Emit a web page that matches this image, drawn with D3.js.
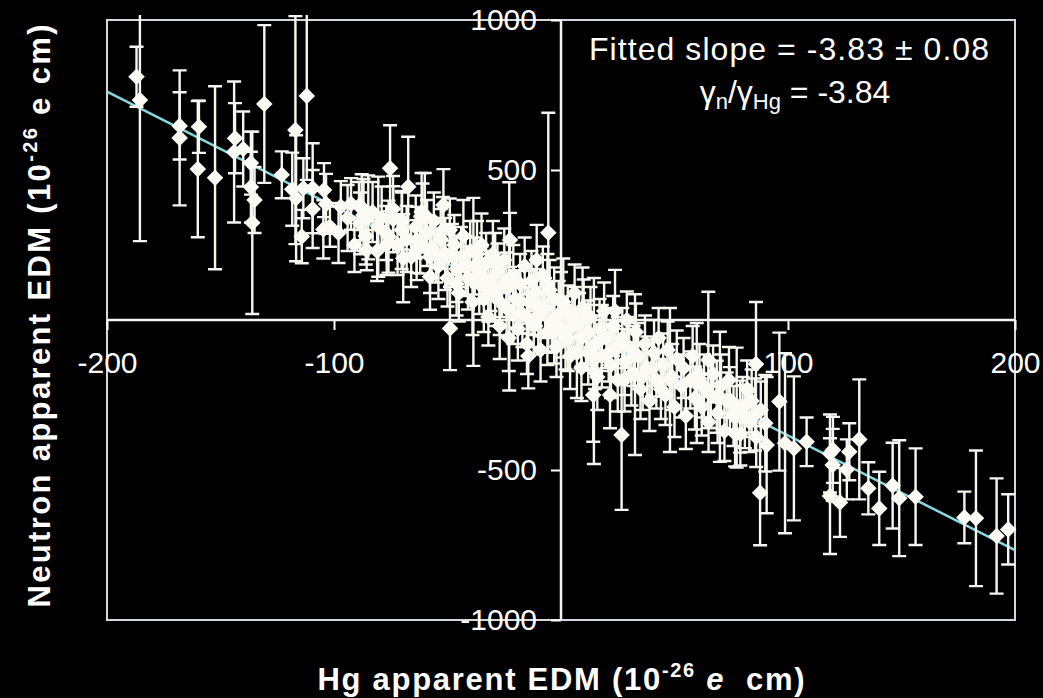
<!DOCTYPE html>
<html>
<head>
<meta charset="utf-8">
<script src="https://cdn.jsdelivr.net/npm/d3@7"></script>
<style>
  html, body { margin: 0; background: #000; }
  svg { display: block; }
  text { font-family: "Liberation Sans", Arial, sans-serif; fill: #fff; white-space: pre; }
</style>
</head>
<body>
<div id="chart"></div>
<script>
// [Hg apparent EDM, neutron apparent EDM, neutron error] in 1e-26 e cm
const edmPoints = [
  [-187, 811, 100], [-185.5, 733, 470], [-168, 647, 112], [-168, 607, 225],
  [-159.5, 644, 87], [-160, 503, 227], [-152.4, 474, 305], [-143.6, 606, 117],
  [-144, 560, 235], [-140, 570, 125], [-136.6, 523, 105], [-136.6, 443, 118],
  [-135, 400, 110], [-136, 324, 304], [-130.7, 720, 263], [-123, 484, 78],
  [-117, 633, 380], [-112, 747, 280], [-118.4, 436, 122], [-116.7, 406, 210],
  [-114.2, 278, 89], [-113.5, 439, 100], [-109.4, 439, 150], [-109.4, 370, 130],
  [-104.4, 433, 90], [-103.5, 387, 100], [-104.7, 302, 97], [-101.8, 311, 67],
  [-97, 378, 85], [-92.5, 387, 86], [-87.8, 376, 110], [-87, 350, 120],
  [-88.5, 322, 103], [-84.9, 342, 140], [-85.6, 233, 67], [-80.5, 311, 167],
  [-75.3, 506, 143], [-67.3, 444, 167], [-76, 278, 120], [-76.8, 250, 100],
  [-73.9, 336, 110], [-70.2, 300, 130], [-69.5, 206, 147], [-61, 340, 115],
  [-63.6, 267, 110], [-63.6, 233, 100], [-57.7, 210, 120], [-57.7, 144, 110],
  [-60, 350, 140], [-51.8, 383, 120], [-61.4, 360, 130], [-48.9, -28, 139],
  [-38.6, 127, 280], [-22.8, 112, 347], [-22.5, 267, 90], [-10.7, 200, 117],
  [-14.4, -120, 108], [-5.6, 291, 400],
  // band, left part
  [-98, 290, 100], [-94, 340, 110], [-91, 250, 90], [-89, 380, 80],
  [-86, 280, 95], [-83, 360, 100], [-81, 230, 100], [-79, 340, 105],
  [-77, 290, 90], [-74, 370, 110], [-72, 250, 100], [-70, 330, 95],
  [-68, 270, 110], [-66, 210, 100], [-64, 310, 105], [-62, 250, 95],
  [-59, 290, 110], [-57, 240, 100], [-56, 330, 95], [-54, 180, 110],
  [-53, 270, 100], [-51, 220, 120], [-50, 140, 95], [-49, 300, 105],
  [-47, 250, 100], [-46, 170, 110], [-45, 90, 95], [-44, 210, 100],
  [-43, 280, 120], [-41, 140, 105], [-40, 230, 100], [-39, 60, 110],
  [-38, 180, 95], [-36, 120, 100], [-35, 250, 105], [-34, 70, 110],
  [-33, 190, 100], [-32, 10, 95], [-31, 130, 100], [-30, 220, 110],
  [-29, 80, 100], [-28, 160, 95], [-27, -20, 110], [-26, 110, 100],
  [-25, 200, 105], [-24, 40, 95], [-23, -60, 110], [-21, 150, 100],
  [-20, 70, 95], [-19, -30, 105], [-18, 120, 100], [-17, 20, 110],
  [-16, 180, 95], [-15, -80, 100], [-14, 60, 105], [-13, 130, 100],
  [-12, -20, 95], [-11, 90, 110], [-10, 10, 100], [-9, -100, 105],
  [-8, 150, 95], [-7, 40, 100], [-6, -40, 110], [-5, 100, 100],
  [-4, -10, 95], [-3, 70, 105], [-2, -90, 100], [-1, 20, 110], [0, -30, 95],
  // extra points in the dense middle
  [-55, 215, 90], [-52, 300, 110], [-48, 220, 100], [-46, 120, 105],
  [-42, 180, 100], [-37, 220, 110], [-35, 150, 95], [-32, 100, 105],
  [-29, 190, 100], [-27, 60, 110], [-24, 130, 95], [-21, 20, 100],
  [-18, 60, 105], [-15, 10, 100], [-12, 60, 110], [-9, 40, 95],
  [-6, 120, 100], [-3, -40, 105], [0, 60, 100], [3, -60, 110],
  [6, 10, 100], [9, -60, 95], [12, -40, 105], [15, -130, 100],
  [18, -60, 110], [21, -110, 95], [25, -90, 100], [28, -200, 105],
  [32, -120, 100], [36, -190, 110], [40, -160, 95], [44, -230, 100],
  // band, right part
  [1, 60, 145], [2, -60, 105], [3, 20, 95], [4, -120, 110],
  [5, -20, 100], [6, 90, 95], [7, -110, 150], [8, -10, 100],
  [9, -160, 110], [9.5, 40, 135], [10, 40, 95], [11, -50, 100],
  [12, -110, 105], [13, 10, 100], [14.2, -250, 156], [14.5, -170, 310],
  [15, -80, 95], [16, -190, 110], [17, -30, 100], [18, -120, 105],
  [19, 30, 95], [20, -60, 100], [21.6, -250, 111], [22, -150, 110],
  [23, -20, 100], [23.8, 30, 137], [24, -100, 95], [25, -200, 105],
  [26.7, -383, 250], [27, -60, 100], [28, -140, 110], [29, 0, 95],
  [30, -90, 100], [31, -180, 105], [32.6, -182, 268], [33, -40, 95],
  [34, -120, 110], [35, -230, 100], [37, -80, 95], [38, -160, 105],
  [39, -270, 100], [41, -110, 110], [42, -200, 95], [43, -60, 100],
  [45, -150, 105], [46, -250, 100], [47, -100, 95], [48, -200, 240],
  [49, -190, 110], [50, -290, 100], [51, -130, 95], [53, -220, 105],
  [54, -160, 100], [55, -320, 110], [57, -200, 95], [58, -120, 100],
  [59, -260, 105], [59.8, -210, 200], [61, -180, 100], [62, -290, 95],
  [63, -220, 105], [64.9, -133, 227], [65, -340, 100], [66, -250, 110],
  [67, -180, 95], [68.6, -256, 120], [69, -310, 100], [70, -256, 217],
  [70.5, -220, 105], [72, -370, 100], [73, -270, 95], [74, -200, 110],
  [74.4, -267, 110], [76, -320, 100], [76.7, -378, 110], [77.4, -292, 200],
  [78.9, -322, 120], [79, -380, 105], [80, -290, 100], [81, -322, 105],
  [82, -230, 95], [83, -340, 100], [84, -270, 105], [85.5, -315, 120],
  [85.9, -147, 207], [86, -390, 100], [87.7, -576, 175], [88, -300, 95],
  // right tail
  [90, -344, 161], [90.6, -417, 227], [96.2, -272, 230], [98.7, -411, 300],
  [102.6, -428, 240], [108.2, -406, 81], [119.8, -433, 110], [118.5, -445, 130],
  [119.7, -483, 120], [118.5, -587, 193], [122.9, -608, 115], [127, -439, 95],
  [125.9, -498, 100], [131.4, -398, 200], [135.4, -561, 87], [140.2, -628, 122],
  [146.1, -552, 143], [149, -594, 193], [156.2, -589, 161], [177.7, -658, 86],
  [182.8, -661, 226], [191.9, -720, 192], [197, -698, 117]
];
const fitLine = [[-200, 761], [200, -767]];
const xTicks = [-200, -100, 100, 200];
const yTicks = [-1000, -500, 500, 1000];
const slopeText = "Fitted slope = -3.83 \u00b1 0.08";
const ratioText = "= -3.84";

var width = 1043, height = 698;
var margin = {top: 20, right: 28, bottom: 78, left: 107};

var svg = d3.select("#chart")
  .append("svg")
  .attr("width", width)
  .attr("height", height)
  .style("background", "#000");

var x = d3.scaleLinear()
  .domain([-200, 200])
  .range([margin.left, width - margin.right]);
var y = d3.scaleLinear()
  .domain([-1000, 1000])
  .range([height - margin.bottom, margin.top]);

// frame
svg.append("rect")
  .attr("x", x(-200)).attr("y", y(1000))
  .attr("width", x(200) - x(-200)).attr("height", y(-1000) - y(1000))
  .attr("fill", "none").attr("stroke", "#d4d8dc").attr("stroke-width", 2);

// axes through zero
var xAxis = g => g
  .attr("transform", `translate(0,${y(0)})`)
  .call(d3.axisBottom(x).tickValues(xTicks).tickSize(10).tickPadding(22).tickFormat(d => String(d)))
  .call(g => g.select(".domain").remove())
  .attr("font-size", 30).attr("font-family", "Liberation Sans, Arial, sans-serif").attr("color", "#fff")
  .call(g => g.selectAll(".tick line").attr("stroke-width", 2));
var yAxis = g => g
  .attr("transform", `translate(${x(0)},0)`)
  .call(d3.axisLeft(y).tickValues(yTicks).tickSize(10).tickPadding(14).tickFormat(d => String(d)))
  .call(g => g.select(".domain").remove())
  .attr("font-size", 30).attr("font-family", "Liberation Sans, Arial, sans-serif").attr("color", "#fff")
  .call(g => g.selectAll(".tick line").attr("stroke-width", 2));

svg.append("g").call(xAxis);
svg.append("g").call(yAxis);

svg.append("line")
  .attr("x1", x(-200)).attr("x2", x(200)).attr("y1", y(0)).attr("y2", y(0))
  .attr("stroke", "#f4f4f4").attr("stroke-width", 2.5);
svg.append("line")
  .attr("x1", x(0)).attr("x2", x(0)).attr("y1", y(1000)).attr("y2", y(-1000))
  .attr("stroke", "#f4f4f4").attr("stroke-width", 2.5);

// plot area, data may poke a little above the frame
svg.append("clipPath").attr("id", "plot-clip")
  .append("rect").attr("x", x(-200) - 8).attr("y", y(1000) - 5)
  .attr("width", x(200) - x(-200) + 16).attr("height", y(-1000) - y(1000) + 10);

var plot = svg.append("g").attr("clip-path", "url(#plot-clip)");

var line = d3.line().x(d => x(d[0])).y(d => y(d[1]));
plot.append("path")
  .datum(fitLine)
  .attr("fill", "none")
  .attr("stroke", "#86dade")
  .attr("stroke-width", 2.5)
  .attr("d", line);

var capHalf = 7;
var bars = plot.append("g")
  .attr("stroke", "#f6f6f0")
  .attr("stroke-width", 2.4)
  .attr("fill", "none");
bars.selectAll("path")
  .data(edmPoints)
  .join("path")
  .attr("d", d => {
    var cx = x(d[0]), top = y(d[1] + d[2]), bot = y(d[1] - d[2]);
    return `M${cx},${top}V${bot}M${cx - capHalf},${top}H${cx + capHalf}M${cx - capHalf},${bot}H${cx + capHalf}`;
  });

plot.append("g")
  .selectAll("path")
  .data(edmPoints)
  .join("path")
  .attr("transform", d => `translate(${x(d[0])},${y(d[1])})`)
  .attr("fill", "#fbfbf4")
  .attr("d", d3.symbol(d3.symbolDiamond2, 175));

// fit annotation
svg.append("text")
  .attr("x", 789).attr("y", 60)
  .attr("text-anchor", "middle")
  .attr("font-size", 32)
  .attr("textLength", 400)
  .text(slopeText);

var ratio = svg.append("text")
  .attr("x", 795).attr("y", 103)
  .attr("text-anchor", "middle")
  .attr("font-size", 32);
ratio.append("tspan").text("\u03b3");
ratio.append("tspan").attr("font-size", 22).attr("dy", 6).text("n");
ratio.append("tspan").attr("dy", -6).text("/\u03b3");
ratio.append("tspan").attr("font-size", 22).attr("dy", 6).text("Hg");
ratio.append("tspan").attr("dy", -6).text(" " + ratioText);

// axis titles
var xTitle = svg.append("text")
  .attr("x", 561).attr("y", 690)
  .attr("text-anchor", "middle")
  .attr("font-size", 31).attr("font-weight", "bold")
  .attr("textLength", 487);
xTitle.append("tspan").text("Hg apparent EDM (10");
xTitle.append("tspan").attr("font-size", 20).attr("dy", -13).text("-26");
xTitle.append("tspan").attr("dy", 13).text(" ");
xTitle.append("tspan").attr("font-style", "italic").text("e");
xTitle.append("tspan").text("  cm)");

var yTitle = svg.append("text")
  .attr("transform", "translate(50,316) rotate(-90)")
  .attr("text-anchor", "middle")
  .attr("font-size", 31).attr("font-weight", "bold")
  .attr("textLength", 583);
yTitle.append("tspan").text("Neutron apparent EDM (10");
yTitle.append("tspan").attr("font-size", 20).attr("dy", -13).text("-26");
yTitle.append("tspan").attr("dy", 13).text(" e cm)");
</script>
</body>
</html>
